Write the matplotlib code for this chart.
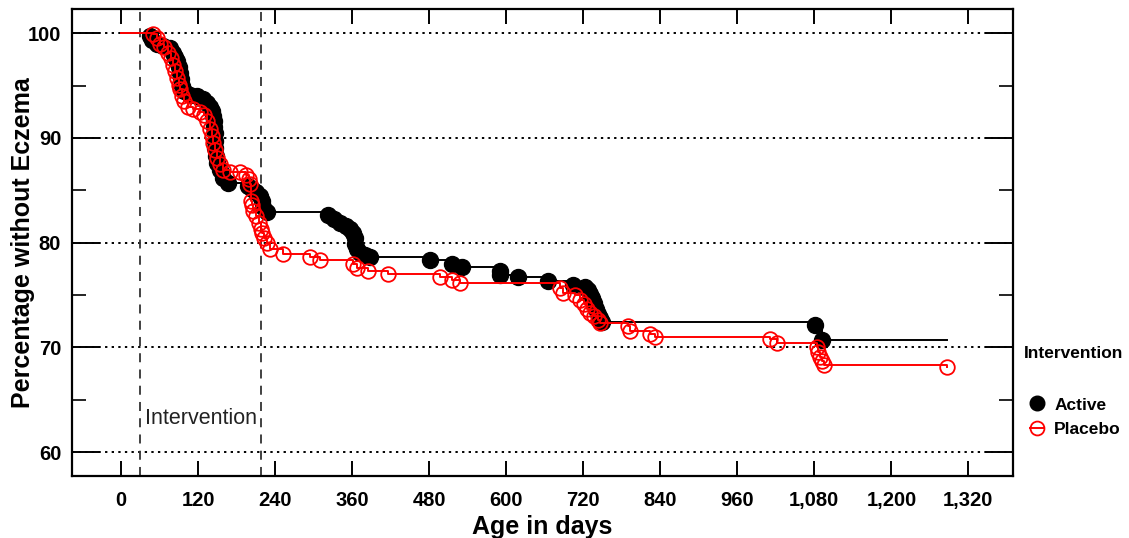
import matplotlib
matplotlib.use('Agg')
import matplotlib.pyplot as plt
import numpy as np
from matplotlib.lines import Line2D
from matplotlib.ticker import FuncFormatter, MultipleLocator

plt.rcParams['font.family'] = ['Liberation Sans', 'DejaVu Sans']

# marker positions (day, % without eczema)
active_days = [45, 48, 56, 65, 76, 81, 84, 87, 90, 92, 93, 95, 98, 107, 118, 128, 134,
               139, 142, 143, 145, 145, 146, 146, 146, 148, 150, 154, 159, 167, 198, 204,
               210, 217, 220, 221, 227, 322, 332, 341, 350, 357, 361, 364, 364, 368, 372,
               380, 388, 481, 516, 531, 590, 590, 618, 665, 704, 723, 727, 731, 734, 737,
               740, 743, 746, 749, 1081, 1092]
active_pct = [99.7, 99.4, 99.0, 98.8, 98.6, 98.1, 97.7, 97.3, 96.8, 96.2, 95.6, 95.0, 94.5,
              94.1, 94.0, 93.7, 93.3, 93.0, 92.6, 92.1, 91.6, 91.0, 90.5, 89.7, 89.0, 88.3,
              87.6, 86.9, 86.2, 85.7, 85.4, 85.1, 84.8, 84.5, 84.0, 83.4, 82.9, 82.6, 82.3,
              81.9, 81.6, 81.3, 80.9, 80.4, 79.9, 79.4, 79.0, 78.8, 78.6, 78.3, 78.0, 77.7,
              77.3, 76.95, 76.7, 76.3, 76.0, 75.8, 75.5, 75.1, 74.7, 74.2, 73.7, 73.2, 72.8,
              72.4, 72.1, 70.7]
active_end = 1287

placebo_days = [50, 56, 61, 67, 73, 78, 81, 84, 87, 90, 92, 95, 98, 104, 112, 123, 129,
                134, 139, 142, 143, 146, 150, 154, 159, 170, 185, 195, 199, 201, 202, 204,
                206, 210, 215, 218, 220, 223, 227, 232, 252, 294, 310, 361, 368, 385, 416,
                497, 516, 528, 684, 688, 707, 715, 721, 726, 731, 737, 743, 746, 790, 793,
                824, 832, 1011, 1022, 1084, 1086, 1089, 1092, 1095, 1287]
placebo_pct = [99.9, 99.5, 99.0, 98.7, 98.1, 97.6, 97.0, 96.4, 95.7, 95.1, 94.7, 94.0, 93.5,
               93.0, 92.8, 92.5, 92.2, 91.6, 90.9, 90.2, 89.5, 88.8, 88.1, 87.5, 86.9, 86.7,
               86.7, 86.5, 86.1, 85.6, 84.0, 83.6, 83.0, 82.5, 81.9, 81.3, 80.9, 80.4, 80.0,
               79.4, 78.95, 78.6, 78.3, 78.0, 77.6, 77.3, 77.0, 76.7, 76.4, 76.1, 75.7, 75.2,
               75.0, 74.5, 74.1, 73.7, 73.3, 73.0, 72.6, 72.3, 72.0, 71.6, 71.3, 71.0, 70.8,
               70.4, 70.0, 69.6, 69.1, 68.7, 68.3, 68.1]

intervention_days = [30, 218]

x_ticks = list(range(0, 1321, 120))
y_ticks = [60, 70, 80, 90, 100]

fig = plt.figure(figsize=(11.29, 5.38), dpi=100)
ax = fig.add_axes([0.064, 0.115, 0.833, 0.868])

# step curves, starting at 100% on day 0
a_x = np.r_[0, active_days, active_end]
a_y = np.r_[100, active_pct, active_pct[-1]]
p_x = np.r_[0, placebo_days]
p_y = np.r_[100, placebo_pct]
ax.step(a_x, a_y, where='post', color='black', lw=1.4, zorder=3)
ax.plot(active_days, active_pct, 'o', color='black', ms=11.5, zorder=4)
ax.step(p_x, p_y, where='post', color='#ff0000', lw=1.4, zorder=5)
ax.plot(placebo_days, placebo_pct, 'o', mfc='none', mec='#ff0000', mew=1.3, ms=10.5, zorder=6)

for d in intervention_days:
    ax.axvline(d, color='#333333', lw=1.3, ls=(0, (5, 4)), zorder=2)
ax.text(intervention_days[0] + 7, 63.2, 'Intervention', fontsize=15.5, color='#222222',
        ha='left', va='center')

for y in y_ticks:
    ax.axhline(y, color='black', lw=1.4, ls=(0, (1.2, 2.2)), zorder=1)

ax.set_xlim(-76, 1389)
ax.set_ylim(57.7, 102.3)
ax.set_xticks(x_ticks)
ax.set_yticks(y_ticks)
ax.yaxis.set_minor_locator(MultipleLocator(5))
ax.xaxis.set_major_formatter(FuncFormatter(lambda v, p: f'{int(v):,}'))
ax.tick_params(axis='x', which='major', direction='in', length=11, width=1.4,
               top=True, bottom=True, labelsize=14.5, pad=11)
ax.tick_params(axis='y', which='major', direction='in', length=20, width=1.4,
               left=True, right=True, labelsize=14.5, pad=8)
ax.tick_params(axis='y', which='minor', direction='in', length=10, width=1.2,
               left=True, right=True)
for lab in ax.get_xticklabels() + ax.get_yticklabels():
    lab.set_fontweight('bold')
for s in ax.spines.values():
    s.set_linewidth(1.6)

ax.set_xlabel('Age in days', fontsize=18, fontweight='bold', labelpad=3)
ax.set_ylabel('Percentage without Eczema', fontsize=18, fontweight='bold')
ax.yaxis.set_label_coords(-0.04, 0.5)

# legend: title placed separately so the gap below it matches
fig.text(0.907, 1 - 354 / 538, 'Intervention', fontsize=12.5, fontweight='bold',
         ha='left', va='center')
handles = [Line2D([], [], marker='o', color='black', ls='none', ms=10.5),
           Line2D([], [], marker='o', color='#ff0000', mfc='none', mew=1.3, ms=10, lw=1.4)]
fig.legend(handles, ['Active', 'Placebo'], loc='upper left',
           bbox_to_anchor=(0.903, 1 - 387 / 538), frameon=False,
           prop={'weight': 'bold', 'size': 12.5}, handlelength=0.8,
           handletextpad=0.6, labelspacing=0.55, borderpad=0.1)

fig.savefig('out.png', dpi=100)
